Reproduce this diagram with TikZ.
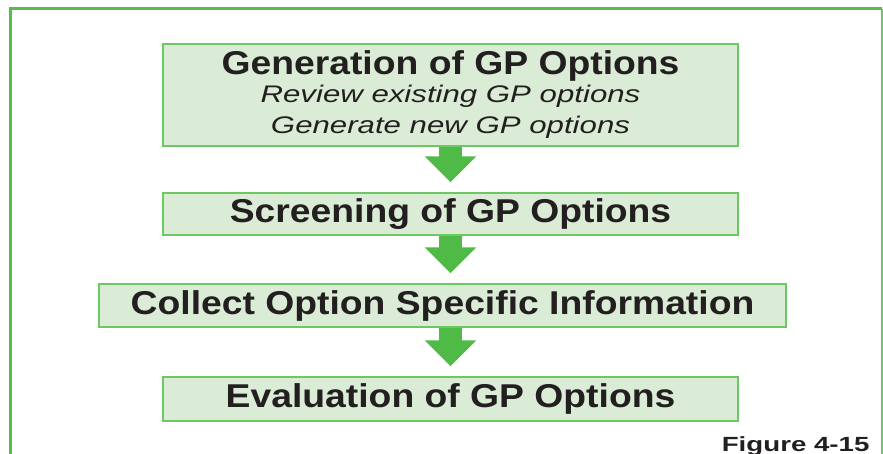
\documentclass[tikz,border=0pt]{standalone}
\usepackage{fontspec}
\setmainfont{Liberation Sans}
\newfontfamily\headfont{Liberation Sans}[FakeStretch=1.13]
\newfontfamily\notefont{Liberation Sans}[FakeStretch=1.3]
\newfontfamily\figfont{Liberation Sans}[FakeStretch=1.35]
\usetikzlibrary{arrows.meta}
\definecolor{gpInk}{RGB}{35,31,32}
\definecolor{gpFrame}{RGB}{88,188,76}
\definecolor{gpEdge}{RGB}{108,200,96}
\definecolor{gpWash}{RGB}{218,236,213}
\definecolor{gpArrow}{RGB}{80,186,70}
\begin{document}
\begin{tikzpicture}[x=1pt, y=-1pt, stage/.style={draw=gpEdge, line width=1.4pt, fill=gpWash, inner sep=0pt, minimum width=575pt, text=gpInk, font={\headfont\bfseries\fontsize{33}{36}\selectfont}}, flow/.style={draw=gpArrow, line width=23pt, -{Triangle[width=50pt, length=26pt]}, shorten >=10pt}, frame/.style={draw=gpFrame, line width=3pt}, note/.style={font={\notefont\itshape\fontsize{24}{31}\selectfont}}]
\useasboundingbox (0,0) rectangle (883,454);
\draw[frame] (10,454) -- (10,9) -- (882,9);
\draw[gpEdge, line width=1.4pt] (882,9) -- (882,454);
\node[stage, note, minimum height=102pt, align=center] (gen) at (450.5,95) {{\headfont\upshape\bfseries\fontsize{33}{36}\selectfont Generation of GP Options}\\[-3pt]Review existing GP options\\Generate new GP options};
\node[stage, minimum height=42pt] (scr) at (450.5,214) {Screening of GP Options};
\node[stage, minimum height=43pt, minimum width=687pt] (col) at (442.5,305.5) {Collect Option Specific Information};
\node[stage, minimum height=44pt] (eva) at (450.5,399) {Evaluation of GP Options};
\draw[flow] (gen.south) -- (scr.north);
\draw[flow] (scr.south) -- (scr.south |- col.north);
\draw[flow] (col.south -| scr.south) -- (eva.north);
\node[anchor=base east, text=gpInk, font={\figfont\bfseries\fontsize{20.5}{24}\selectfont}] (fig) at (873,451) {Figure 4-15};
\end{tikzpicture}
\end{document}
